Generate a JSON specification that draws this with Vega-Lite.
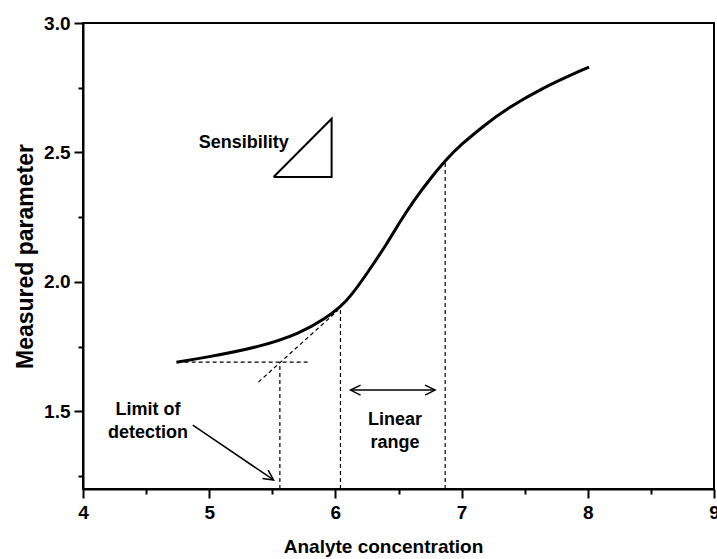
{
  "$schema": "https://vega.github.io/schema/vega-lite/v6.json",
  "width": 631,
  "height": 466,
  "autosize": {"type": "none"},
  "padding": {"left": 83, "top": 23, "right": 3, "bottom": 70},
  "background": "white",
  "config": {
    "view": {"stroke": "black", "strokeWidth": 2},
    "font": "Liberation Sans, Arial, sans-serif",
    "axis": {
      "grid": false,
      "domainColor": "black",
      "domainWidth": 2,
      "tickColor": "black",
      "tickWidth": 2,
      "labelColor": "black",
      "labelFont": "Liberation Sans, Arial, sans-serif",
      "labelFontWeight": "bold",
      "labelFontSize": 19,
      "titleColor": "black",
      "titleFont": "Liberation Sans, Arial, sans-serif",
      "titleFontWeight": "bold"
    }
  },
  "datasets": {
    "curve": [
      {"c": 4.74, "m": 1.690},
      {"c": 4.95, "m": 1.706},
      {"c": 5.40, "m": 1.748},
      {"c": 5.72, "m": 1.801},
      {"c": 5.93, "m": 1.861},
      {"c": 6.04, "m": 1.904},
      {"c": 6.12, "m": 1.943},
      {"c": 6.27, "m": 2.046},
      {"c": 6.41, "m": 2.149},
      {"c": 6.51, "m": 2.231},
      {"c": 6.62, "m": 2.314},
      {"c": 6.75, "m": 2.398},
      {"c": 6.87, "m": 2.468},
      {"c": 6.99, "m": 2.529},
      {"c": 7.20, "m": 2.612},
      {"c": 7.33, "m": 2.660},
      {"c": 7.64, "m": 2.750},
      {"c": 8.01, "m": 2.830}
    ],
    "guides": [
      {"name": "baseline", "c1": 4.75, "m1": 1.690, "c2": 5.78, "m2": 1.690},
      {"name": "tangent", "c1": 5.39, "m1": 1.613, "c2": 6.02, "m2": 1.890},
      {"name": "lod", "c1": 5.56, "m1": 1.2, "c2": 5.56, "m2": 1.690},
      {"name": "lin_lo", "c1": 6.04, "m1": 1.2, "c2": 6.04, "m2": 1.904},
      {"name": "lin_hi", "c1": 6.87, "m1": 1.2, "c2": 6.87, "m2": 2.468}
    ],
    "arrows": [
      {"name": "range", "c1": 6.12, "m1": 1.582, "c2": 6.79, "m2": 1.582},
      {"name": "lod", "c1": 4.87, "m1": 1.447, "c2": 5.51, "m2": 1.235}
    ],
    "triangle": [
      {"i": 0, "c": 5.51, "m": 2.405},
      {"i": 1, "c": 5.97, "m": 2.405},
      {"i": 2, "c": 5.97, "m": 2.630},
      {"i": 3, "c": 5.51, "m": 2.405}
    ],
    "labels": [
      {"text": "Sensibility", "c": 5.63, "m": 2.536, "align": "right"},
      {"text": "Limit of\ndetection", "c": 4.515, "m": 1.505, "align": "center"},
      {"text": "Linear\nrange", "c": 6.472, "m": 1.467, "align": "center"}
    ],
    "minor": [
      {"c": 4.5, "m": 1.25},
      {"c": 5.5, "m": 1.75},
      {"c": 6.5, "m": 2.25},
      {"c": 7.5, "m": 2.75},
      {"c": 8.5, "m": 2.75}
    ]
  },
  "resolve": {"axis": {"x": "independent", "y": "independent"}},
  "layer": [
    {
      "encoding": {
        "x": {
          "field": "c",
          "type": "quantitative",
          "scale": {"domain": [4, 9], "nice": false, "zero": false},
          "axis": {
            "orient": "bottom",
            "title": "Analyte concentration",
            "titleFontSize": 19,
            "titlePadding": 15,
            "titleX": 300,
            "titleAnchor": "middle",
            "values": [4, 5, 6, 7, 8, 9],
            "format": "d",
            "labelPadding": 5,
            "labelFlush": false,
            "labelOverlap": false,
            "tickSize": 9
          }
        },
        "y": {
          "field": "m",
          "type": "quantitative",
          "scale": {"domain": [1.2, 3.0], "nice": false, "zero": false},
          "axis": {
            "orient": "left",
            "title": "Measured parameter",
            "titleFontSize": 23,
            "titlePadding": 6,
            "values": [1.5, 2.0, 2.5, 3.0],
            "format": ".1f",
            "labelPadding": 4,
            "labelFlush": false,
            "labelOverlap": false,
            "tickSize": 9
          }
        }
      },
      "layer": [
        {
          "data": {"name": "guides"},
          "mark": {"type": "rule", "color": "black", "strokeWidth": 1.2, "strokeDash": [4, 3]},
          "encoding": {
            "x": {"field": "c1", "type": "quantitative"},
            "y": {"field": "m1", "type": "quantitative"},
            "x2": {"field": "c2"},
            "y2": {"field": "m2"}
          }
        },
        {
          "data": {"name": "curve"},
          "mark": {"type": "line", "color": "black", "strokeWidth": 3, "interpolate": "basis"}
        },
        {
          "data": {"name": "triangle"},
          "mark": {"type": "line", "color": "black", "strokeWidth": 2, "strokeJoin": "miter"},
          "encoding": {"order": {"field": "i", "type": "quantitative"}}
        },
        {
          "data": {"name": "arrows"},
          "mark": {"type": "rule", "color": "black", "strokeWidth": 1.5},
          "encoding": {
            "x": {"field": "c1", "type": "quantitative"},
            "y": {"field": "m1", "type": "quantitative"},
            "x2": {"field": "c2"},
            "y2": {"field": "m2"}
          }
        },
        {
          "data": {"name": "arrows"},
          "transform": [{"filter": "datum.name === 'range'"}],
          "mark": {"type": "point", "shape": "M-2,-1L0,0L-2,1", "size": 100, "filled": false, "color": "black", "strokeWidth": 1.5, "opacity": 1},
          "encoding": {
            "x": {"field": "c2", "type": "quantitative"},
            "y": {"field": "m2", "type": "quantitative"}
          }
        },
        {
          "data": {"name": "arrows"},
          "transform": [{"filter": "datum.name === 'range'"}],
          "mark": {"type": "point", "shape": "M-2,-1L0,0L-2,1", "size": 100, "angle": 180, "filled": false, "color": "black", "strokeWidth": 1.5, "opacity": 1},
          "encoding": {
            "x": {"field": "c1", "type": "quantitative"},
            "y": {"field": "m1", "type": "quantitative"}
          }
        },
        {
          "data": {"name": "arrows"},
          "transform": [{"filter": "datum.name === 'lod'"}],
          "mark": {"type": "point", "shape": "M-2,-1L0,0L-2,1", "size": 100, "angle": 34.5, "filled": false, "color": "black", "strokeWidth": 1.5, "opacity": 1},
          "encoding": {
            "x": {"field": "c2", "type": "quantitative"},
            "y": {"field": "m2", "type": "quantitative"}
          }
        },
        {
          "data": {"name": "labels"},
          "transform": [{"filter": "datum.align === 'right'"}],
          "mark": {"type": "text", "align": "right", "baseline": "middle", "fontSize": 18, "fontWeight": "bold", "color": "black"},
          "encoding": {"text": {"field": "text"}}
        },
        {
          "data": {"name": "labels"},
          "transform": [{"filter": "datum.align === 'center'"}],
          "mark": {"type": "text", "align": "center", "baseline": "middle", "fontSize": 18, "fontWeight": "bold", "color": "black", "lineBreak": "\n", "lineHeight": 23},
          "encoding": {"text": {"field": "text"}}
        }
      ]
    },
    {
      "data": {"name": "minor"},
      "mark": {"type": "point", "opacity": 0},
      "encoding": {
        "x": {
          "field": "c",
          "type": "quantitative",
          "axis": {
            "orient": "bottom",
            "title": null,
            "values": [4.5, 5.5, 6.5, 7.5, 8.5],
            "labels": false,
            "domain": false,
            "tickSize": 5
          }
        },
        "y": {
          "field": "m",
          "type": "quantitative",
          "axis": {
            "orient": "left",
            "title": null,
            "values": [1.25, 1.75, 2.25, 2.75],
            "labels": false,
            "domain": false,
            "tickSize": 5
          }
        }
      }
    }
  ]
}
